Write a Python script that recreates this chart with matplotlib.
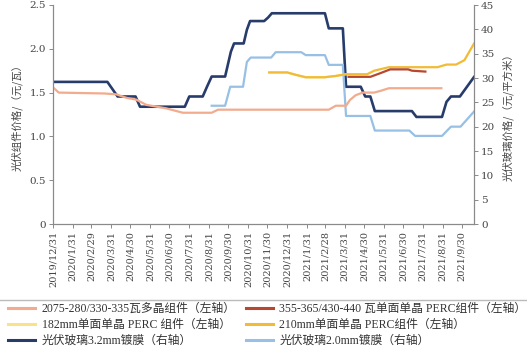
import matplotlib
matplotlib.use("Agg")
import matplotlib.pyplot as plt
import matplotlib.dates as mdates
from matplotlib.lines import Line2D
import pandas as pd

plt.rcParams['font.family'] = ['DejaVu Serif', 'Noto Sans CJK SC']
plt.rcParams['axes.unicode_minus'] = False

# ---------------- data ----------------
tick_dates = ["2019-12-31", "2020-01-31", "2020-02-29", "2020-03-31", "2020-04-30",
              "2020-05-31", "2020-06-30", "2020-07-31", "2020-08-31", "2020-09-30",
              "2020-10-31", "2020-11-30", "2020-12-31", "2021-01-31", "2021-02-28",
              "2021-03-31", "2021-04-30", "2021-05-31", "2021-06-30", "2021-07-31",
              "2021-08-31", "2021-09-30"]
tick_labels = ["2019/12/31", "2020/1/31", "2020/2/29", "2020/3/31", "2020/4/30",
               "2020/5/31", "2020/6/30", "2020/7/31", "2020/8/31", "2020/9/30",
               "2020/10/31", "2020/11/30", "2020/12/31", "2021/1/31", "2021/2/28",
               "2021/3/31", "2021/4/30", "2021/5/31", "2021/6/30", "2021/7/31",
               "2021/8/31", "2021/9/30"]

poly_dates = ["2019-12-31", "2020-01-09", "2020-03-20", "2020-04-08", "2020-04-24",
              "2020-05-09", "2020-05-25", "2020-06-25", "2020-07-21", "2020-09-04",
              "2020-09-14", "2021-03-06", "2021-03-17", "2021-04-02", "2021-04-08",
              "2021-04-17", "2021-04-28", "2021-05-16", "2021-05-26", "2021-06-08",
              "2021-08-29"]
poly_vals = [1.56, 1.50, 1.49, 1.48, 1.44, 1.42, 1.36, 1.32, 1.27, 1.27,
             1.305, 1.305, 1.35, 1.35, 1.415, 1.47, 1.50, 1.50, 1.52, 1.55, 1.55]

perc355_dates = ["2021-04-06", "2021-05-10", "2021-05-25", "2021-06-10", "2021-07-08",
                 "2021-07-14", "2021-08-04"]
perc355_vals = [1.68, 1.68, 1.72, 1.765, 1.765, 1.75, 1.74]

perc182_dates = ["2020-12-03", "2020-12-31", "2021-01-15", "2021-01-29", "2021-02-27",
                 "2021-03-17", "2021-04-02"]
perc182_vals = [1.73, 1.73, 1.70, 1.675, 1.675, 1.69, 1.71]

perc210_dates = ["2020-12-03", "2020-12-31", "2021-01-15", "2021-01-29", "2021-02-27",
                 "2021-03-17", "2021-04-02", "2021-05-05", "2021-05-16", "2021-06-08",
                 "2021-08-23", "2021-09-06", "2021-09-21", "2021-10-04", "2021-10-19"]
perc210_vals = [1.73, 1.73, 1.70, 1.675, 1.675, 1.69, 1.71, 1.71, 1.75, 1.79,
                1.79, 1.82, 1.82, 1.87, 2.06]

glass32_dates = ["2019-12-31", "2020-03-25", "2020-04-10", "2020-05-08", "2020-05-15",
                 "2020-07-24", "2020-07-31", "2020-08-21", "2020-08-28", "2020-09-04",
                 "2020-09-25", "2020-10-04", "2020-10-09", "2020-10-24", "2020-10-29",
                 "2020-11-03", "2020-11-25", "2020-12-01", "2020-12-07", "2021-02-28",
                 "2021-03-06", "2021-03-28", "2021-04-02", "2021-04-25", "2021-05-02",
                 "2021-05-10", "2021-05-17", "2021-07-14", "2021-07-21", "2021-08-30",
                 "2021-09-06", "2021-09-13", "2021-09-27", "2021-10-19"]
glass32_vals = [29.2, 29.2, 26.2, 26.2, 24.1, 24.1, 26.2, 26.2, 28.3, 30.3,
                30.3, 35.4, 37.1, 37.1, 39.9, 41.7, 41.7, 42.4, 43.3, 43.3,
                40.2, 40.2, 28.2, 28.2, 26.2, 26.2, 23.2, 23.2, 22.0, 22.0,
                25.1, 26.2, 26.2, 30.2]

glass20_dates = ["2020-09-04", "2020-09-25", "2020-10-03", "2020-10-23", "2020-10-29",
                 "2020-11-04", "2020-12-06", "2020-12-13", "2021-01-22", "2021-01-29",
                 "2021-02-28", "2021-03-06", "2021-03-28", "2021-04-02", "2021-05-10",
                 "2021-05-17", "2021-07-10", "2021-07-19", "2021-08-30", "2021-09-13",
                 "2021-09-28", "2021-10-19"]
glass20_vals = [24.3, 24.3, 28.2, 28.2, 33.3, 34.2, 34.2, 35.3, 35.3, 34.7,
                34.7, 32.7, 32.7, 22.2, 22.2, 19.2, 19.2, 18.1, 18.1, 20.0,
                20.0, 23.1]

labels = ["2075-280/330-335瓦多晶组件（左轴）",
          "355-365/430-440 瓦单面单晶 PERC组件（左轴）",
          "182mm单面单晶 PERC 组件（左轴）",
          "210mm单面单晶 PERC组件（左轴）",
          "光伏玻璃3.2mm镀膜（右轴）",
          "光伏玻璃2.0mm镀膜（右轴）"]

c_poly = "#F3AB8E"
c_355 = "#B8472F"
c_182 = "#F8E38A"
c_210 = "#F1BB35"
c_32 = "#283C6C"
c_20 = "#97C0E4"

# ---------------- figure ----------------
fig = plt.figure(figsize=(5.27, 3.55), dpi=100)
ax = fig.add_axes([53 / 527, 1 - 224 / 355, (474 - 53) / 527, (224 - 5) / 355])
ax2 = ax.twinx()

D = lambda s: pd.to_datetime(s)

l1, = ax.plot(D(poly_dates), poly_vals, color=c_poly, lw=1.6)
l3, = ax.plot(D(perc182_dates), perc182_vals, color=c_182, lw=1.6)
l4, = ax.plot(D(perc210_dates), perc210_vals, color=c_210, lw=1.6)
l2, = ax.plot(D(perc355_dates), perc355_vals, color=c_355, lw=1.6)
l5, = ax2.plot(D(glass32_dates), glass32_vals, color=c_32, lw=1.9)
l6, = ax2.plot(D(glass20_dates), glass20_vals, color=c_20, lw=1.6)

ax.set_zorder(ax2.get_zorder() + 1)
ax.patch.set_visible(False)

ax.set_ylim(0, 2.5)
ax2.set_ylim(0, 45)
ax.set_xlim(D("2019-12-31"), D("2021-10-19"))

ax.set_yticks([0, 0.5, 1.0, 1.5, 2.0, 2.5])
ax.set_yticklabels(["0", "0.5", "1.0", "1.5", "2.0", "2.5"])
ax2.set_yticks(list(range(0, 50, 5)))
ax2.set_yticklabels([str(v) for v in range(0, 50, 5)])

ax.set_xticks(D(tick_dates))
ax.set_xticklabels(tick_labels, rotation=90)

spine_c = "#8a8a8a"
text_c = "#444444"
for a in (ax, ax2):
    a.spines["top"].set_visible(False)
    for s in ("left", "right", "bottom"):
        a.spines[s].set_color(spine_c)
        a.spines[s].set_linewidth(0.8)
    a.tick_params(direction="out", length=3, width=0.7, color=spine_c,
                  labelcolor=text_c, labelsize=7.5, pad=2)
ax.tick_params(axis="x", labelsize=7)

ax.set_ylabel("光伏组件价格/（元/瓦）", fontsize=7.5, color=text_c,
              family=["Noto Sans CJK SC"], labelpad=5)
ax2.set_ylabel("光伏玻璃价格/（元/平方米）", fontsize=7.5, color=text_c,
               family=["Noto Sans CJK SC"], rotation=90, labelpad=6)

# legend
fig.add_artist(Line2D([0, 1], [1 - 300 / 355, 1 - 300 / 355],
                      transform=fig.transFigure, color="#bbbbbb", lw=1))
handles = [l1, l3, l5, l2, l4, l6]
leg_labels = [labels[0], labels[2], labels[4], labels[1], labels[3], labels[5]]
leg = fig.legend(handles, leg_labels, ncol=2, loc="upper left",
                 bbox_to_anchor=(8 / 527, 1 - 303 / 355), frameon=False,
                 prop={"family": ["Liberation Serif", "Noto Sans CJK SC"], "size": 8.5},
                 handlelength=2.3, handletextpad=0.55, columnspacing=0.85,
                 labelspacing=0.33, borderaxespad=0, borderpad=0)
for t in leg.get_texts():
    t.set_color("#333333")
for h in leg.get_lines():
    h.set_linewidth(2.2)

fig.savefig("out.png", dpi=100)
